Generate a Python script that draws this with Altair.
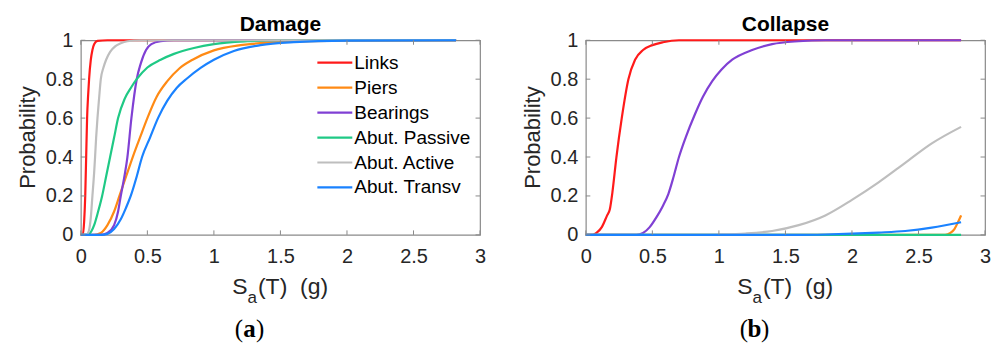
import altair as alt
import pandas as pd

# ---------------- data ----------------
components = ["Links", "Piers", "Bearings", "Abut. Passive", "Abut. Active", "Abut. Transv"]
colors = ["#FF1A1A", "#FF8A14", "#8040D4", "#1FC985", "#BEBEBE", "#1A82FF"]

x_ticks = [0, 0.5, 1, 1.5, 2, 2.5, 3]
y_ticks = [0, 0.2, 0.4, 0.6, 0.8, 1]
panel_titles = ["Damage", "Collapse"]
panel_letters = ["a", "b"]

# Damage fragility curves
dmg_links_x = [0, 0.015, 0.025, 0.033, 0.04, 0.047, 0.055, 0.062, 0.075, 0.087, 0.1, 0.125, 0.2, 2.82]
dmg_links_p = [0, 0, 0.07, 0.2, 0.4, 0.6, 0.72, 0.8, 0.9, 0.95, 0.98, 0.997, 1, 1]
dmg_piers_x = [0, 0.1, 0.15, 0.2, 0.25, 0.29, 0.34, 0.39, 0.45, 0.5, 0.57, 0.65, 0.74, 0.84, 1.0, 1.2, 1.5, 2.0, 2.82]
dmg_piers_p = [0, 0, 0.01, 0.05, 0.12, 0.2, 0.3, 0.4, 0.51, 0.6, 0.71, 0.79, 0.855, 0.9, 0.948, 0.975, 0.99, 0.998, 1]
dmg_bear_x = [0, 0.15, 0.2, 0.25, 0.28, 0.3, 0.33, 0.35, 0.38, 0.42, 0.45, 0.49, 0.53, 0.6, 0.7, 2.82]
dmg_bear_p = [0, 0, 0.01, 0.05, 0.12, 0.2, 0.31, 0.4, 0.6, 0.8, 0.88, 0.95, 0.98, 0.995, 1, 1]
dmg_pass_x = [0, 0.05, 0.08, 0.1, 0.13, 0.16, 0.19, 0.22, 0.25, 0.28, 0.33, 0.38, 0.42, 0.5, 0.6, 0.7, 0.85, 1.0, 1.25, 1.5, 2.82]
dmg_pass_p = [0, 0, 0.02, 0.05, 0.12, 0.2, 0.3, 0.4, 0.5, 0.6, 0.7, 0.76, 0.8, 0.86, 0.9, 0.93, 0.96, 0.98, 0.995, 1, 1]
dmg_act_x = [0, 0.04, 0.06, 0.075, 0.087, 0.1, 0.107, 0.115, 0.125, 0.137, 0.15, 0.17, 0.19, 0.22, 0.26, 0.3, 0.35, 0.45, 2.82]
dmg_act_p = [0, 0, 0.02, 0.09, 0.2, 0.32, 0.4, 0.5, 0.6, 0.7, 0.8, 0.86, 0.9, 0.94, 0.97, 0.985, 0.995, 1, 1]
dmg_trans_x = [0, 0.15, 0.2, 0.25, 0.3, 0.34, 0.375, 0.42, 0.46, 0.52, 0.58, 0.65, 0.72, 0.8, 0.9, 1.0, 1.15, 1.35, 1.6, 2.0, 2.82]
dmg_trans_p = [0, 0, 0.005, 0.03, 0.08, 0.14, 0.2, 0.3, 0.4, 0.5, 0.6, 0.69, 0.755, 0.805, 0.858, 0.9, 0.945, 0.975, 0.99, 0.998, 1]

# Collapse fragility curves
col_links_x = [0, 0.05, 0.08, 0.12, 0.16, 0.18, 0.2, 0.23, 0.27, 0.32, 0.37, 0.43, 0.5, 0.58, 0.7, 2.82]
col_links_p = [0, 0, 0.01, 0.04, 0.1, 0.13, 0.22, 0.4, 0.6, 0.8, 0.9, 0.95, 0.975, 0.99, 1, 1]
col_piers_x = [0, 2.7, 2.74, 2.77, 2.8, 2.82]
col_piers_p = [0, 0, 0.01, 0.03, 0.07, 0.1]
col_bear_x = [0, 0.38, 0.43, 0.48, 0.53, 0.58, 0.62, 0.66, 0.7, 0.75, 0.82, 0.88, 0.95, 1.02, 1.1, 1.25, 1.4, 1.6, 1.8, 2.82]
col_bear_p = [0, 0, 0.01, 0.04, 0.09, 0.15, 0.21, 0.3, 0.4, 0.5, 0.62, 0.71, 0.79, 0.85, 0.9, 0.95, 0.98, 0.995, 1, 1]
col_pass_x = [0, 2.82]
col_pass_p = [0, 0]
col_act_x = [0, 0.8, 1.0, 1.2, 1.4, 1.6, 1.8, 2.0, 2.2, 2.4, 2.6, 2.82]
col_act_p = [0, 0, 0.002, 0.007, 0.02, 0.05, 0.1, 0.18, 0.27, 0.37, 0.47, 0.555]
col_trans_x = [0, 1.6, 1.8, 2.0, 2.2, 2.4, 2.6, 2.82]
col_trans_p = [0, 0, 0.002, 0.006, 0.012, 0.02, 0.037, 0.065]

damage_series = [(dmg_links_x, dmg_links_p), (dmg_piers_x, dmg_piers_p), (dmg_bear_x, dmg_bear_p),
                 (dmg_pass_x, dmg_pass_p), (dmg_act_x, dmg_act_p), (dmg_trans_x, dmg_trans_p)]
collapse_series = [(col_links_x, col_links_p), (col_piers_x, col_piers_p), (col_bear_x, col_bear_p),
                   (col_pass_x, col_pass_p), (col_act_x, col_act_p), (col_trans_x, col_trans_p)]


def to_frame(series):
    rows = []
    for name, (xs, ps) in zip(components, series):
        for xv, pv in zip(xs, ps):
            rows.append({"v": xv, "p": pv, "comp": name})
    return pd.DataFrame(rows)


# ---------------- styling ----------------
W, H = 400, 195
FONT = "Liberation Sans"
SERIF = "Liberation Serif"
FRAME = "#8a8a8a"
TXT = "#262626"

xscale = alt.Scale(domain=[0, 3], nice=False, zero=False)
yscale = alt.Scale(domain=[0, 1], nice=False)
xaxis = alt.Axis(values=x_ticks, format="~g", title=None, ticks=False, tickSize=0, domain=False,
                 grid=False, labelFont=FONT, labelFontSize=20, labelPadding=12, labelColor=TXT,
                 labelFlush=False, labelOverlap=False)
yaxis = alt.Axis(values=y_ticks, format="~g", title=None, ticks=False, tickSize=0, domain=False,
                 grid=False, labelFont=FONT, labelFontSize=20, labelPadding=8, labelColor=TXT,
                 labelFlush=False, labelOverlap=False)


def panel(series, title, letter, show_legend):
    df = to_frame(series)
    xt = pd.DataFrame({"v": x_ticks})
    yt = pd.DataFrame({"p": y_ticks})

    if show_legend:
        legend = alt.Legend(
            title=None, orient="none", legendX=245, legendY=13,
            symbolType="M-3.5,0H3.5", symbolSize=100, symbolStrokeWidth=2.2,
            labelFont=FONT, labelFontSize=19, labelColor="black", labelOffset=10,
            rowPadding=5, padding=0, labelLimit=300,
        )
    else:
        legend = None

    lines = alt.Chart(df).mark_line(strokeWidth=2.2, interpolate="monotone").encode(
        x=alt.X("v:Q", scale=xscale, axis=xaxis),
        y=alt.Y("p:Q", scale=yscale, axis=yaxis),
        color=alt.Color("comp:N", scale=alt.Scale(domain=components, range=colors), legend=legend),
    )

    tick_len = 4.5
    xb = alt.Chart(xt).mark_rule(color=FRAME, strokeWidth=1).encode(
        x=alt.X("v:Q", scale=xscale, axis=xaxis), y=alt.value(H), y2=alt.value(H - tick_len))
    xtp = alt.Chart(xt).mark_rule(color=FRAME, strokeWidth=1).encode(
        x=alt.X("v:Q", scale=xscale, axis=xaxis), y=alt.value(0), y2=alt.value(tick_len))
    yl = alt.Chart(yt).mark_rule(color=FRAME, strokeWidth=1).encode(
        y=alt.Y("p:Q", scale=yscale, axis=yaxis), x=alt.value(0), x2=alt.value(tick_len))
    yr = alt.Chart(yt).mark_rule(color=FRAME, strokeWidth=1).encode(
        y=alt.Y("p:Q", scale=yscale, axis=yaxis), x=alt.value(W), x2=alt.value(W - tick_len))

    tdf = pd.DataFrame({"label": [title]})
    ttl = alt.Chart(tdf).mark_text(font=FONT, fontSize=21, fontWeight="bold", color="black",
                                   align="center", baseline="alphabetic").encode(
        x=alt.value(W / 2), y=alt.value(-9), text="label:N")

    ydf = pd.DataFrame({"label": ["Probability"]})
    ylab = alt.Chart(ydf).mark_text(font=FONT, fontSize=22, color=TXT, angle=270,
                                    align="center", baseline="middle").encode(
        x=alt.value(-52.5), y=alt.value(H / 2), text="label:N")

    sdf = pd.DataFrame({"label": ["S"]})
    s_txt = alt.Chart(sdf).mark_text(font=FONT, fontSize=23, color=TXT, align="right",
                                     baseline="alphabetic").encode(
        x=alt.value(167), y=alt.value(254), text="label:N")
    adf = pd.DataFrame({"label": ["a"]})
    a_txt = alt.Chart(adf).mark_text(font=FONT, fontSize=17, color=TXT, align="left",
                                     baseline="alphabetic").encode(
        x=alt.value(167), y=alt.value(263), text="label:N")
    rdf = pd.DataFrame({"label": ["(T)\u00a0 (g)"]})
    r_txt = alt.Chart(rdf).mark_text(font=FONT, fontSize=23, color=TXT, align="left",
                                     baseline="alphabetic").encode(
        x=alt.value(177.5), y=alt.value(254), text="label:N")

    ldf = pd.DataFrame({"label": [letter]})
    lp = alt.Chart(pd.DataFrame({"label": ["("]})).mark_text(
        font=SERIF, fontSize=25, color="black", align="right", baseline="alphabetic").encode(
        x=alt.value(162.5), y=alt.value(297), text="label:N")
    lt = alt.Chart(ldf).mark_text(
        font=SERIF, fontSize=25, fontWeight="bold", color="black", align="center",
        baseline="alphabetic").encode(x=alt.value(169), y=alt.value(297), text="label:N")
    rp = alt.Chart(pd.DataFrame({"label": [")"]})).mark_text(
        font=SERIF, fontSize=25, color="black", align="left", baseline="alphabetic").encode(
        x=alt.value(175.5), y=alt.value(297), text="label:N")

    return alt.layer(lines, xb, xtp, yl, yr, ttl, ylab, s_txt, a_txt, r_txt, lp, lt, rp).properties(
        width=W, height=H)


pa = panel(damage_series, panel_titles[0], panel_letters[0], True)
pb = panel(collapse_series, panel_titles[1], panel_letters[1], False)

chart = alt.hconcat(pa, pb, spacing=106, bounds="flush").properties(
    padding={"left": 16, "top": 13, "right": 5, "bottom": 1},
    background="white",
).configure_view(stroke=FRAME, strokeWidth=1.2)

chart.save("out.html", embed_options={"renderer": "svg", "actions": False})
